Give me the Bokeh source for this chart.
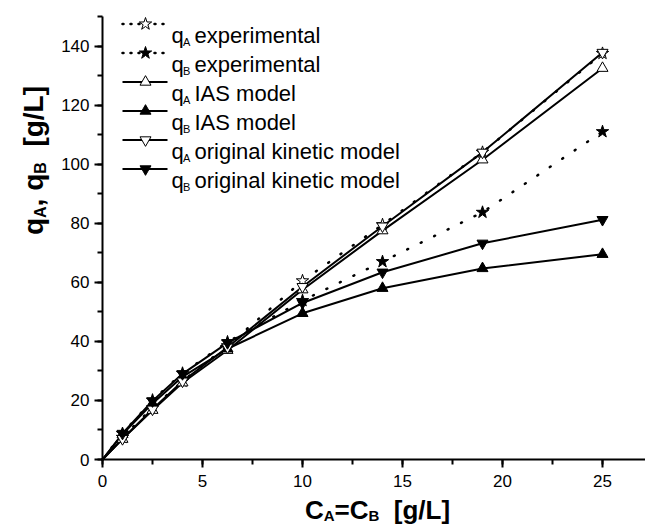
import math
from bokeh.plotting import figure
from bokeh.models import Label, SingleIntervalTicker, Range1d
from bokeh.embed import file_html
from bokeh.resources import INLINE

# ---------------- data ----------------
c_values = [1, 2.5, 4, 6.25, 10, 14, 19, 25]           # C_A = C_B [g/L]
qA_experimental = [7.5, 17.5, 26.5, 38.5, 60.5, 79.5, 104.0, 137.5]
qB_experimental = [8.8, 20.1, 29.2, 39.8, 53.8, 67.0, 83.7, 111.0]
qA_ias = [6.9, 16.7, 26.0, 37.0, 57.5, 77.5, 101.5, 132.5]
qB_ias = [8.5, 19.0, 28.0, 37.5, 49.5, 58.0, 64.7, 69.5]
qA_kinetic = [7.0, 17.0, 26.5, 38.0, 58.5, 79.0, 104.0, 137.8]
qB_kinetic = [8.8, 19.8, 29.0, 39.5, 53.0, 63.4, 73.2, 81.2]
x_ticks_interval = 5
y_ticks_interval = 20
legend_labels = [("A", "experimental"), ("B", "experimental"),
                 ("A", "IAS model"), ("B", "IAS model"),
                 ("A", "original kinetic model"), ("B", "original kinetic model")]

# ---------------- layout (frame covers whole canvas, axes float at 0) ----------------
FONT = "Liberation Sans"
W_PX, H_PX = 645, 524
X0_PX, Y0_PX = 102, 459          # pixel position of data origin
PX_PER_X = 20.0
PX_PER_Y = 443 / 150.0
XMAX, YMAX = 27.15, 150.0

def xd(px):
    return (px - X0_PX) / PX_PER_X

def yd(py):
    return (Y0_PX - py) / PX_PER_Y

p = figure(frame_width=W_PX, frame_height=H_PX,
           x_range=Range1d(xd(0), xd(W_PX)), y_range=Range1d(yd(H_PX), yd(0)),
           output_backend="svg", toolbar_location=None,
           min_border=0, min_border_left=0, min_border_right=0,
           min_border_top=0, min_border_bottom=0,
           outline_line_color=None, background_fill_color="white",
           border_fill_color="white")
p.xgrid.visible = False
p.ygrid.visible = False
p.xaxis.ticker = SingleIntervalTicker(interval=x_ticks_interval, num_minor_ticks=2)
p.yaxis.ticker = SingleIntervalTicker(interval=y_ticks_interval, num_minor_ticks=2)
p.xaxis.fixed_location = 0
p.yaxis.fixed_location = 0
p.xaxis.bounds = (0, XMAX)
p.yaxis.bounds = (0, YMAX)
for ax in (p.xaxis[0], p.yaxis[0]):
    ax.axis_line_width = 2
    ax.axis_line_color = "black"
    ax.major_tick_line_width = 2
    ax.minor_tick_line_width = 2
    ax.major_tick_line_color = "black"
    ax.minor_tick_line_color = "black"
    ax.major_tick_out = 8
    ax.major_tick_in = 0
    ax.minor_tick_out = 5
    ax.minor_tick_in = 0
    ax.major_label_text_font = FONT
    ax.major_label_text_font_size = "17px"
    ax.major_label_text_color = "black"
p.xaxis.major_label_standoff = 7
p.yaxis.major_label_standoff = 5

DOT = dict(line_dash="1 14", line_cap="round", line_width=2.5, line_color="black")
SOLID = dict(line_width=2, line_color="black")

xs = [0] + c_values
series = [
    (qA_experimental, DOT, "star", "white", 13),
    (qB_experimental, DOT, "star", "black", 13),
    (qA_ias, SOLID, "triangle", "white", 11),
    (qB_ias, SOLID, "triangle", "black", 11),
    (qA_kinetic, SOLID, "inverted_triangle", "white", 11),
    (qB_kinetic, SOLID, "inverted_triangle", "black", 11),
]
for ys, style, m, fc, sz in series:
    p.line(xs, [0] + ys, **style)
for ys, style, m, fc, sz in series:
    p.scatter(c_values, ys, marker=m, size=sz, fill_color=fc,
              line_color="black", line_width=1)

def label(x, y, text, size, bold=False, angle=0.0):
    p.add_layout(Label(x=x, y=y, text=text, angle=angle, text_font=FONT,
                       text_font_style="bold" if bold else "normal",
                       text_font_size=f"{size}px", text_color="black",
                       text_baseline="alphabetic", text_align="left"))

# ---------------- legend (hand-built for subscripts) ----------------
row_y = [23.5 + 29 * i for i in range(6)]
for (ys, style, m, fc, sz), (sub, txt), ry in zip(series, legend_labels, row_y):
    ls = dict(style)
    if "line_dash" in ls:
        ls["line_dash"] = "1 7"
    p.line([xd(122), xd(167)], [yd(ry), yd(ry)], **ls)
    p.scatter([xd(145)], [yd(ry)], marker=m, size=sz, fill_color=fc,
              line_color="black", line_width=1)
    label(xd(171), yd(ry + 11), "q", 22)
    label(xd(182.5), yd(ry + 18), sub, 11)
    label(xd(194), yd(ry + 11), txt, 22)

# ---------------- axis titles ----------------
W = {"C": .722, "q": .611, "A": .722, "B": .722, "=": .584, ",": .278,
     " ": .278, "[": .333, "g": .611, "/": .278, "L": .611, "]": .333}

def width(s, size):
    return sum(W[ch] for ch in s) * size

# x title: C_A=C_B  [g/L]
BIG, SMALL = 26, 15
pieces = [("C", False), ("A", True), ("=C", False), ("B", True), ("  [g/L]", False)]
total = sum(width(t, SMALL if s else BIG) for t, s in pieces)
cx = 377 - total / 2
for t, s in pieces:
    size = SMALL if s else BIG
    lead = len(t) - len(t.lstrip(" "))
    label(xd(cx + width(" " * lead, size)), yd(509 + (6 if s else 0)), t.strip(), size, bold=True)
    cx += width(t, size)

# y title: q_A, q_B  [g/L]  (reads bottom to top)
YB, YS = 28, 16
pieces = [("q", False), ("A", True), (", q", False), ("B", True), ("  [g/L]", False)]
total = sum(width(t, YS if s else YB) for t, s in pieces)
cy = 160 + total / 2
for t, s in pieces:
    size = YS if s else YB
    lead = len(t) - len(t.lstrip(" "))
    label(xd(33 + (7 if s else 0)), yd(cy - width(" " * lead, size)), t.strip(), size,
          bold=True, angle=math.pi / 2)
    cy -= width(t, size)

open("out.html", "w").write(file_html(p, INLINE))
